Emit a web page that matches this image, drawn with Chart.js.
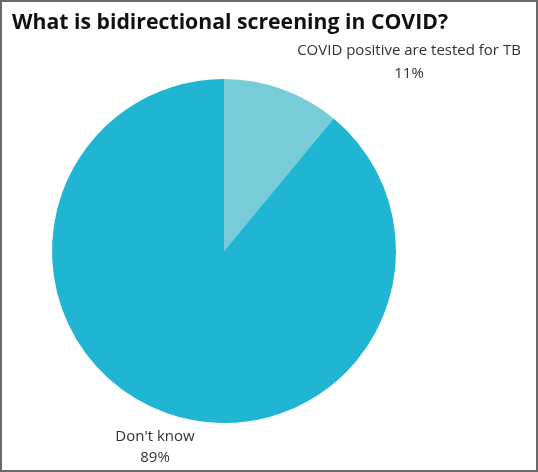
<!DOCTYPE html>
<html>
<head>
<meta charset="utf-8">
<script src="https://cdn.jsdelivr.net/npm/chart.js@4"></script>
<style>
html,body{margin:0;padding:0;background:#fff;}
#wrap{width:538px;height:472px;box-sizing:border-box;border:2px solid #6a6a6a;position:relative;background:#fff;}
canvas{display:block;}
</style>
</head>
<body>
<div id="wrap"><canvas id="c" width="534" height="468"></canvas></div>
<script>
const titleText = "What is bidirectional screening in COVID?";
const categories = ["COVID positive are tested for TB", "Don't know"];
const values = [11, 89];
const colors = ["#78ccd7", "#20b6d3"];

const labelPlugin = {
  id: 'labels',
  afterDraw(chart) {
    const ctx = chart.ctx;
    ctx.save();
    // title
    ctx.fillStyle = '#111';
    ctx.textBaseline = 'alphabetic';
    ctx.textAlign = 'left';
    let size = 24;
    ctx.font = 'bold ' + size + 'px "Open Sans"';
    const w = ctx.measureText(titleText).width;
    size = size * 436 / w;
    ctx.font = 'bold ' + size.toFixed(2) + 'px "Open Sans"';
    ctx.fillText(titleText, 10, 27);
    // slice labels
    ctx.fillStyle = '#333';
    ctx.textAlign = 'center';
    ctx.textBaseline = 'middle';
    ctx.font = '15px "Open Sans"';
    const pos = [[407, 49, 72], [153, 435, 456]];
    categories.forEach((c, i) => {
      ctx.fillText(c, pos[i][0], pos[i][1]);
      ctx.fillText(values[i] + '%', pos[i][0], pos[i][2]);
    });
    ctx.restore();
  }
};

new Chart(document.getElementById('c'), {
  type: 'pie',
  data: {
    labels: categories,
    datasets: [{ data: values, backgroundColor: colors, borderWidth: 0 }]
  },
  options: {
    responsive: false,
    animation: false,
    layout: { padding: { left: 50, top: 77, right: 140, bottom: 47 } },
    plugins: { legend: { display: false }, title: { display: false }, tooltip: { enabled: false } }
  },
  plugins: [labelPlugin]
});
</script>
</body>
</html>
